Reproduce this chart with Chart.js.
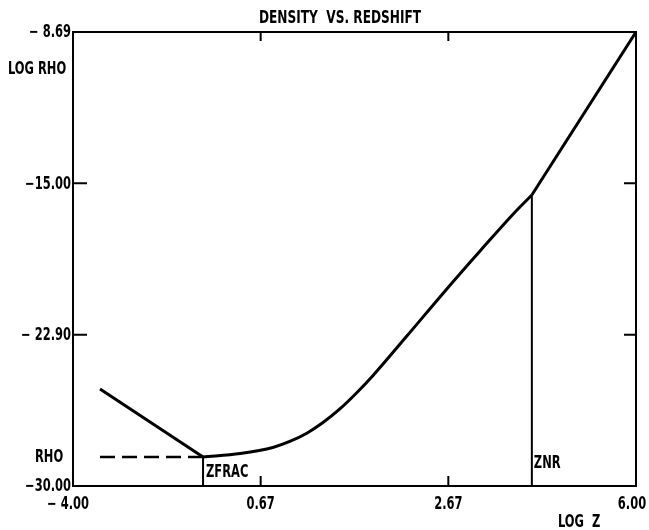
<!DOCTYPE html>
<html>
<head>
<meta charset="utf-8">
<script src="https://cdn.jsdelivr.net/npm/chart.js@4"></script>
<style>
  html, body { margin: 0; padding: 0; background: #fff; }
  #wrap { width: 649px; height: 530px; }
</style>
</head>
<body>
<div id="wrap"><canvas id="chart"></canvas></div>
<script>
// log z / log rho, in the axis' own units
let lowZ = [-3.52, -1.69];
let lowRho = [-25.45, -28.64];
let midZ = [-1.69, -1.03, -0.45, -0.15, 0.16, 0.44, 0.74, 1.04, 1.33, 1.93, 2.64, 3.23, 3.82, 4.15];
let midRho = [-28.64, -28.47, -28.19, -27.91, -27.51, -27.02, -26.38, -25.62, -24.81, -22.96, -20.75, -18.97, -17.23, -16.34];
let highZ = [4.15, 6.00];
let highRho = [-16.34, -8.69];

let zFrac = -1.69;
let zNR = 4.15;
let rhoLevel = -28.64;
let rhoDashStart = -3.52;

let xTickVals = [-4, -4 + 10 / 3, -4 + 20 / 3, 6];
let xTickLabels = ['\u2212 4.00', '0.67', '2.67', '6.00'];
let yTickVals = [-30, -30 + 21.31 / 3, -30 + 2 * 21.31 / 3, -8.69];
let yTickLabels = ['\u221230.00', '\u2212 22.90', '\u221215.00', '\u2212 8.69'];

const FONT = "'DejaVu Sans Condensed', 'DejaVu Sans', sans-serif";
const SQUEEZE = 0.75;

function pts(xs, ys) {
  return xs.map((x, i) => ({x: x, y: ys[i]}));
}

// narrow plotter-style lettering: squeeze the text horizontally
function say(c, txt, x, y, align, size) {
  c.save();
  c.font = 'bold ' + (size || 17) + 'px ' + FONT;
  c.textBaseline = 'middle';
  c.textAlign = align;
  c.translate(x, y);
  c.scale(SQUEEZE, 1);
  c.fillText(txt, 0, 0);
  c.restore();
}

// frame, inward ticks and text labels like the old plotter output
const decor = {
  id: 'decor',
  afterDatasetsDraw(chart) {
    const c = chart.ctx;
    const a = chart.chartArea;
    const xs = chart.scales.x, ys = chart.scales.y;
    c.save();
    c.strokeStyle = '#000';
    c.lineWidth = 2;
    c.strokeRect(a.left, a.top, a.right - a.left, a.bottom - a.top);
    c.beginPath();
    xTickVals.slice(1, -1).forEach(v => {
      let px = xs.getPixelForValue(v);
      c.moveTo(px, a.bottom); c.lineTo(px, a.bottom - 10);
      c.moveTo(px, a.top); c.lineTo(px, a.top + 9);
    });
    yTickVals.slice(1, -1).forEach(v => {
      let py = ys.getPixelForValue(v);
      c.moveTo(a.left, py); c.lineTo(a.left + 14, py);
      c.moveTo(a.right, py); c.lineTo(a.right - 12, py);
    });
    c.stroke();
    c.fillStyle = '#000';

    // tick labels
    xTickVals.forEach((v, i) => {
      let px = xs.getPixelForValue(v);
      if (i == 0) px -= 5;
      if (i == xTickVals.length - 1) px -= 4;
      say(c, xTickLabels[i], px, a.bottom + 19, 'center');
    });
    yTickVals.forEach((v, i) => {
      say(c, yTickLabels[i], a.left - 2, ys.getPixelForValue(v) + 1, 'right');
    });

    say(c, 'DENSITY  VS. REDSHIFT', 340, 18, 'center', 18);
    say(c, 'LOG RHO', 8, 70, 'left');
    say(c, 'RHO', 35, 458, 'left');
    say(c, 'ZFRAC', xs.getPixelForValue(zFrac) + 3, 473, 'left');
    say(c, 'ZNR', xs.getPixelForValue(zNR) + 2, 464, 'left');
    say(c, 'LOG  Z', 558, 523, 'left');
    c.restore();
  }
};

let ctx = document.getElementById('chart').getContext('2d');
let lineStyle = {borderColor: '#000', pointRadius: 0, fill: false};

let myChart = new Chart(ctx, {
  type: 'line',
  data: {
    datasets: [
      Object.assign({data: pts(lowZ, lowRho), borderWidth: 3, tension: 0}, lineStyle),
      Object.assign({data: pts(midZ, midRho), borderWidth: 3, cubicInterpolationMode: 'monotone'}, lineStyle),
      Object.assign({data: pts(highZ, highRho), borderWidth: 3, tension: 0}, lineStyle),
      Object.assign({data: pts([rhoDashStart, zFrac], [rhoLevel, rhoLevel]), borderWidth: 2.5, borderDash: [15, 7]}, lineStyle),
      Object.assign({data: pts([zFrac, zFrac], [rhoLevel, -30]), borderWidth: 2}, lineStyle),
      Object.assign({data: pts([zNR, zNR], [highRho[0], -30]), borderWidth: 2}, lineStyle)
    ]
  },
  options: {
    responsive: true,
    maintainAspectRatio: false,
    animation: false,
    layout: {padding: {top: 32, right: 13, left: 0, bottom: 0}},
    plugins: {legend: {display: false}, title: {display: false}, tooltip: {enabled: false}},
    scales: {
      x: {
        type: 'linear',
        min: -4, max: 6,
        grid: {display: false},
        border: {display: false},
        afterBuildTicks: s => { s.ticks = xTickVals.map(v => ({value: v})); },
        afterFit: s => { s.height = 44; s.paddingLeft = 0; s.paddingRight = 0; },
        ticks: {display: false, callback: (v, i) => xTickLabels[i]}
      },
      y: {
        type: 'linear',
        min: -30, max: -8.69,
        grid: {display: false},
        border: {display: false},
        afterBuildTicks: s => { s.ticks = yTickVals.map(v => ({value: v})); },
        afterFit: s => { s.width = 73; s.paddingTop = 0; s.paddingBottom = 0; },
        ticks: {display: false, callback: (v, i) => yTickLabels[i]}
      }
    }
  },
  plugins: [decor]
});
</script>
</body>
</html>
